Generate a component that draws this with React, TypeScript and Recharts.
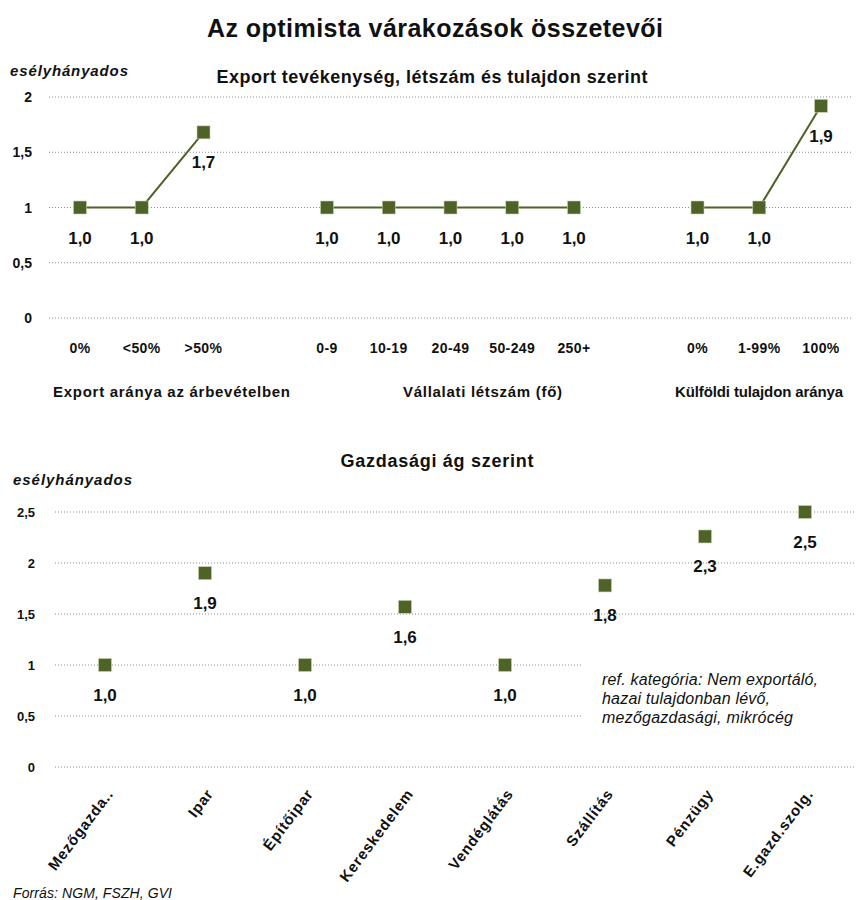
import React from 'react';
import { CartesianGrid, LabelList, Line, LineChart, XAxis, YAxis } from 'recharts';

// upper panel: export share, headcount, foreign ownership (blank slots split the groups)
const topCategories = ['0%', '<50%', '>50%', '', '0-9', '10-19', '20-49', '50-249', '250+', '', '0%', '1-99%', '100%'];
const topValues = [1.0, 1.0, 1.68, null, 1.0, 1.0, 1.0, 1.0, 1.0, null, 1.0, 1.0, 1.92];
const topTicks = [0, 0.5, 1, 1.5, 2];
const topGroupTitles = ['Export aránya az árbevételben', 'Vállalati létszám (fő)', 'Külföldi tulajdon aránya'];

// lower panel: sector
const sectors = ['Mezőgazda..', 'Ipar', 'Építőipar', 'Kereskedelem', 'Vendéglátás', 'Szállítás', 'Pénzügy', 'E.gazd.szolg.'];
const sectorValues = [1.0, 1.9, 1.0, 1.57, 1.0, 1.78, 2.26, 2.5];
const bottomTicks = [0, 0.5, 1, 1.5, 2, 2.5];
const refNote = ['ref. kategória: Nem exportáló,', 'hazai tulajdonban lévő,', 'mezőgazdasági,  mikrócég'];

const topData = topCategories.map((c, i) => ({ idx: i, label: c, value: topValues[i] }));
const bottomData = sectors.map((s, i) => ({ name: s, value: sectorValues[i] }));

const GREEN = '#4f6228';
const FONT = '"Liberation Sans", Arial, sans-serif';
const fmt = (v: number) => v.toFixed(1).replace('.', ',');

const SquareDot = (props: any) => {
  const { cx, cy, index } = props;
  if (cx == null || cy == null) return <g key={'d' + index} />;
  return (
    <rect key={'d' + index} x={cx - 6.5} y={cy - 6.5} width={13} height={13} fill={GREEN} stroke="#c9d4b0" strokeWidth={0.6} />
  );
};

const ValueLabel = (props: any) => {
  const { x, y, value, index } = props;
  if (value == null) return null;
  return (
    <text key={'l' + index} x={x} y={y + 36} textAnchor="middle" fontSize={17} fontWeight="bold" fill="#111" fontFamily={FONT}>
      {fmt(value)}
    </text>
  );
};

const YTick = (right: number, size: number) => (props: any) => {
  const { y, payload } = props;
  return (
    <text x={right} y={y + 5} textAnchor="end" fontSize={size} fontWeight="bold" fill="#111" fontFamily={FONT}>
      {String(payload.value).replace('.', ',')}
    </text>
  );
};

const TopXTick = (props: any) => {
  const { x, payload } = props;
  return (
    <text x={x} y={353} textAnchor="middle" fontSize={14} fontWeight="bold" fill="#111" fontFamily={FONT} letterSpacing={0.4}>
      {topCategories[payload.value]}
    </text>
  );
};

const BottomXTick = (props: any) => {
  const { x, payload } = props;
  return (
    <g transform={`translate(${x + 9},${354})`}>
      <text transform="rotate(-53)" textAnchor="end" fontSize={15} fontWeight="bold" fill="#111" fontFamily={FONT} letterSpacing={0.8}>
        {payload.value}
      </text>
    </g>
  );
};

const T = (p: { x: number; y: number; len: number; size: number; anchor?: string; bold?: boolean; italic?: boolean; children: string }) => (
  <text
    x={p.x}
    y={p.y}
    textAnchor={p.anchor || 'start'}
    textLength={p.len}
    lengthAdjust="spacing"
    fontSize={p.size}
    fontWeight={p.bold ? 'bold' : 'normal'}
    fontStyle={p.italic ? 'italic' : 'normal'}
    fontFamily={FONT}
    fill="#111"
  >
    {p.children}
  </text>
);

export default function App() {
  return (
    <div style={{ position: 'absolute', left: 0, top: 0, width: 860, height: 900, background: '#fff', overflow: 'hidden' }}>
      <div style={{ position: 'absolute', left: 0, top: 0 }}>
        <LineChart width={860} height={420} data={topData} margin={{ top: 97, right: 8, left: 0, bottom: 62 }}>
          <CartesianGrid vertical={false} stroke="#8c8c8c" strokeDasharray="1 2" />
          <XAxis dataKey="idx" type="category" axisLine={false} tickLine={false} height={40} interval={0} padding={{ left: 31, right: 31 }} tick={TopXTick} />
          <YAxis width={49} domain={[0, 2]} ticks={topTicks} axisLine={false} tickLine={false} tick={YTick(32, 14)} />
          <Line dataKey="value" stroke={GREEN} strokeWidth={2} connectNulls={false} isAnimationActive={false} dot={SquareDot} activeDot={false}>
            <LabelList dataKey="value" content={ValueLabel} />
          </Line>
        </LineChart>
      </div>

      <div style={{ position: 'absolute', left: 0, top: 440 }}>
        <LineChart width={860} height={460} data={bottomData} margin={{ top: 72, right: 5, left: 0, bottom: 33 }}>
          <CartesianGrid vertical={false} stroke="#8c8c8c" strokeDasharray="1 2" />
          <XAxis dataKey="name" axisLine={false} tickLine={false} height={100} interval={0} padding={{ left: 50, right: 50 }} tick={BottomXTick} />
          <YAxis width={55} domain={[0, 2.5]} ticks={bottomTicks} axisLine={false} tickLine={false} tick={YTick(35, 13)} />
          <Line dataKey="value" stroke="none" strokeWidth={0} isAnimationActive={false} dot={SquareDot} activeDot={false}>
            <LabelList dataKey="value" content={ValueLabel} />
          </Line>
        </LineChart>
      </div>

      <svg width={860} height={900} style={{ position: 'absolute', left: 0, top: 0, pointerEvents: 'none' }}>
        <T x={435} y={37} len={456} size={25} anchor="middle" bold>Az optimista várakozások összetevői</T>
        <T x={432} y={83} len={431} size={18} anchor="middle" bold>Export tevékenység, létszám és tulajdon szerint</T>
        <T x={10} y={76} len={118} size={15} bold italic>esélyhányados</T>

        <T x={53} y={397} len={237} size={15} bold>{topGroupTitles[0]}</T>
        <T x={403} y={397} len={159} size={15} bold>{topGroupTitles[1]}</T>
        <T x={675} y={397} len={168} size={15} bold>{topGroupTitles[2]}</T>

        <T x={437} y={467} len={193} size={18} anchor="middle" bold>Gazdasági ág szerint</T>
        <T x={13} y={485} len={119} size={15} bold italic>esélyhányados</T>

        <rect x={583} y={658} width={277} height={70} fill="#fff" />
        <T x={602} y={685} len={216} size={16} italic>{refNote[0]}</T>
        <T x={602} y={704} len={168} size={16} italic>{refNote[1]}</T>
        <T x={602} y={723} len={191} size={16} italic>{refNote[2]}</T>

        <T x={13} y={898} len={159} size={14} italic>Forrás: NGM, FSZH, GVI</T>
      </svg>
    </div>
  );
}
